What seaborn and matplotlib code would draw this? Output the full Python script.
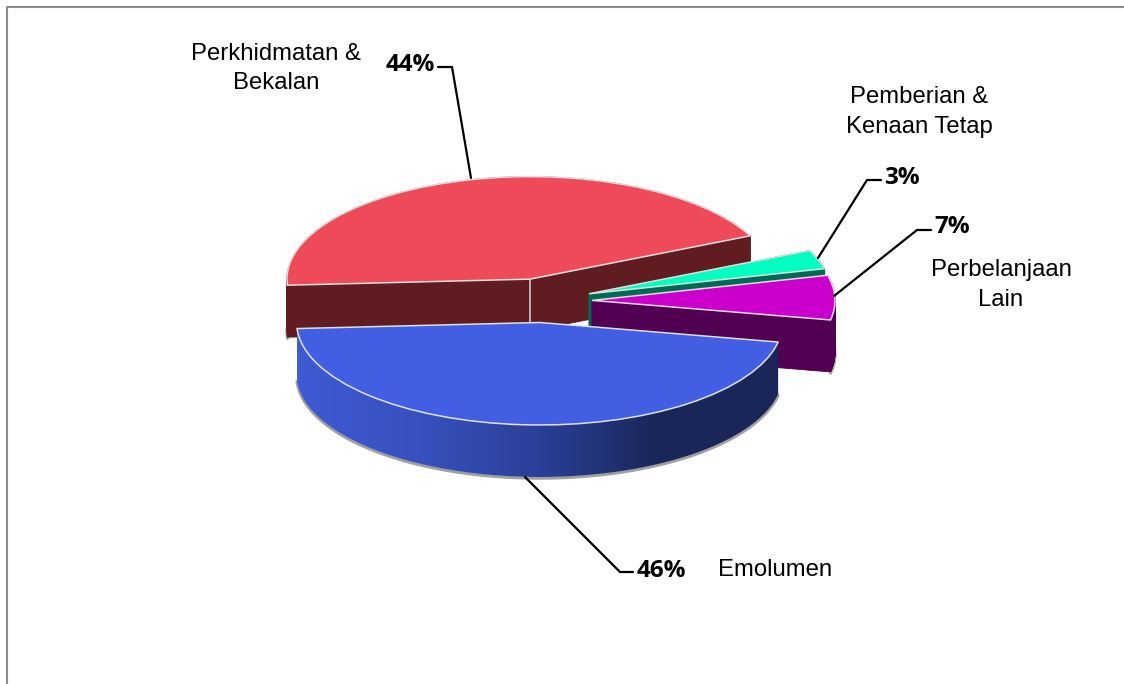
#!/usr/bin/env python
# coding: utf-8

import numpy as np
import seaborn as sns
import matplotlib.pyplot as plt
from matplotlib.patches import Polygon

sns.set_theme(style="white")
plt.rcParams['font.family'] = ['Liberation Sans', 'DejaVu Sans']

# Data
categories = ["Perkhidmatan &\nBekalan", "Emolumen", "Perbelanjaan\nLain", "Pemberian &\nKenaan Tetap"]
values = [44, 46, 7, 3]
explode = [0.21, 0.21, 0.21, 0.21]

top_colours = ["#EF4A5A", "#425FE3", "#CC00CC", "#00FFC0"]
wall_colours = ["#611C21", "#1A2659", "#520052", "#006B53"]
blue_wall_stops = ["#3F5AD4", "#3851BE", "#2B3F98", "#1A2659", "#1A2659"]

# squashed pie: one data unit is a px wide and b px high
cx, cy = 541, 301
a, b = 243, 102.5
depth = 52 / b


def px(x, y):
    return (x - cx) / a, (cy - y) / b


def arc(wedge, t1, t2, drop=0.0, n=120):
    t = np.radians(np.linspace(t1, t2, n))
    return np.column_stack([wedge.center[0] + wedge.r * np.cos(t),
                            wedge.center[1] + wedge.r * np.sin(t) - drop])


def body_outline(wedge):
    # silhouette of the extruded slice below its top face
    top = np.vstack([[wedge.center], arc(wedge, wedge.theta1, wedge.theta2)])
    low = top - [0, depth]
    quads = [np.vstack([top[i:i + 2], low[i:i + 2][::-1]]) for i in range(len(top) - 1)]
    quads.append(np.vstack([top[-1], top[0], low[0], low[-1]]))
    return quads


fig, ax = plt.subplots(figsize=(11.24, 6.84), dpi=100)
fig.subplots_adjust(0, 0, 1, 1)

wedges, _ = ax.pie(values, explode=explode, colors=top_colours, startangle=25, radius=1,
                   wedgeprops=dict(edgecolor="#dedede", linewidth=1.1))
ax.set_aspect("auto")

# red and blue sit a little further right in the picture
rw, bw = wedges[0], wedges[1]
rw.set_center((rw.center[0] + 1.5 / a, rw.center[1] + 1 / b))
bw.set_center((bw.center[0] + 2 / a, bw.center[1]))

# back to front: red, green, magenta, blue
order = [0, 3, 2]
z = 2
for i in order:
    w = wedges[i]
    for q in body_outline(w):
        ax.add_patch(Polygon(q, closed=True, facecolor=wall_colours[i], edgecolor=wall_colours[i],
                             linewidth=0.6, zorder=z))
    # soft shadow along the lower rim
    rim = arc(w, w.theta1, w.theta2, drop=depth + 0.012)
    ax.plot(rim[:, 0], rim[:, 1], color="#a8a8a8", lw=2.2, zorder=z - 0.5)
    w.set_zorder(z + 1)
    z += 2

# red cut edge at the centre
ax.plot([rw.center[0]] * 2, [rw.center[1], rw.center[1] - depth], color="#d9d9d9", lw=1.1, zorder=3.5)

# blue front wall with its left to right gradient
wall = np.vstack([arc(bw, bw.theta1, bw.theta2), arc(bw, bw.theta1, bw.theta2, drop=depth)[::-1]])
rim = arc(bw, bw.theta1, bw.theta2, drop=depth + 0.012)
ax.plot(rim[:, 0], rim[:, 1], color="#a0a0a0", lw=2.2, zorder=8)
grad = np.array(sns.blend_palette(blue_wall_stops, n_colors=256))[None, :, :]
im = ax.imshow(grad, aspect="auto", zorder=9, interpolation="bilinear",
               extent=[wall[:, 0].min(), wall[:, 0].max(), wall[:, 1].min(), wall[:, 1].max()])
clip = Polygon(wall, closed=True, transform=ax.transData, facecolor="none", edgecolor="none")
ax.add_patch(clip)
im.set_clip_path(clip)
bw.set_zorder(10)

ax.set_xlim(px(0, 0)[0], px(1124, 0)[0])
ax.set_ylim(px(0, 684)[1], px(0, 0)[1])

# leader lines
leaders = [([438, 452, 471], [67, 67, 178]),
           ([881, 867, 818], [180, 180, 258]),
           ([931, 917, 834], [230, 230, 296]),
           ([633, 620, 525], [572, 572, 477])]
for xs, ys in leaders:
    d = np.array([px(x, y) for x, y in zip(xs, ys)])
    ax.plot(d[:, 0], d[:, 1], color="black", lw=1.6, zorder=11, solid_joinstyle="miter")

# labels
name_pos = [(276, 68.5), (775, 570), (1001, 285), (919, 112)]
for name, (x, y) in zip(categories, name_pos):
    ax.text(*px(x, y), name, ha="center", va="center", fontsize=17.2, color="black",
            linespacing=1.45, zorder=12)

pct_pos = [(410, 62), (661, 568), (952, 224), (902, 175)]
for v, (x, y) in zip(values, pct_pos):
    ax.text(*px(x, y), f"{v}%", ha="center", va="center_baseline", fontsize=17.5, fontweight="bold",
            family=["Open Sans", "DejaVu Sans"], color="black", zorder=12)

# outer frame, only top and left are in the picture
fx, fy = zip(*[px(7, 684), px(7, 7), px(1124, 7)])
ax.plot(fx, fy, color="#8c8c8c", lw=1.5, zorder=1)

fig.savefig("out.png", dpi=100)
